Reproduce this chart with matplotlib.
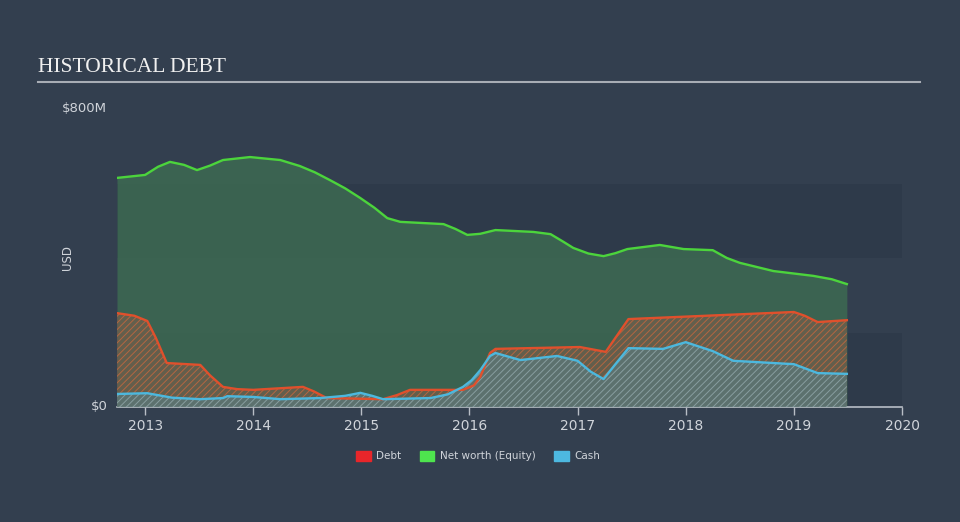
import matplotlib.pyplot as plt
import matplotlib as mpl

# values in $M, dates as decimal years
equity_t = [2012.74, 2013.0, 2013.12, 2013.23, 2013.36, 2013.48, 2013.6, 2013.72, 2013.97,
            2014.25, 2014.43, 2014.57, 2014.71, 2014.85, 2014.99, 2015.12, 2015.24, 2015.36,
            2015.76, 2015.87, 2015.98, 2016.1, 2016.24, 2016.59, 2016.75, 2016.86, 2016.96,
            2017.1, 2017.24, 2017.35, 2017.46, 2017.76, 2017.98, 2018.25, 2018.38, 2018.5,
            2018.81, 2019.18, 2019.35, 2019.49]
equity_v = [615, 623, 645, 658, 650, 636, 648, 663, 671,
            663, 647, 630, 609, 587, 561, 535, 507, 497,
            491, 478, 462, 465, 475, 470, 464, 445, 427,
            412, 405, 413, 424, 435, 424, 421, 400, 387,
            365, 352, 343, 330]

debt_t = [2012.74, 2012.9, 2013.02, 2013.1, 2013.2, 2013.51, 2013.6, 2013.72, 2013.85,
          2014.0, 2014.46, 2014.56, 2014.68, 2015.2, 2015.33, 2015.45, 2015.94, 2016.04,
          2016.1, 2016.19, 2016.24, 2017.02, 2017.26, 2017.36, 2017.47, 2017.95,
          2019.0, 2019.1, 2019.22, 2019.49]
debt_v = [252, 245, 231, 185, 118, 113, 85, 54, 48,
          46, 54, 42, 24, 21, 32, 46, 46, 58,
          81, 145, 156, 161, 148, 190, 236, 242,
          255, 245, 228, 233]

cash_t = [2012.74, 2013.02, 2013.25, 2013.51, 2013.72, 2013.76, 2014.0, 2014.25,
          2014.62, 2014.85, 2014.99, 2015.1, 2015.2, 2015.64, 2015.8, 2015.94, 2016.02,
          2016.1, 2016.19, 2016.24, 2016.47, 2016.81, 2017.0, 2017.12, 2017.24,
          2017.35, 2017.47, 2017.79, 2018.0, 2018.25, 2018.44, 2019.0, 2019.22, 2019.49]
cash_v = [35, 37, 25, 21, 24, 29, 27, 21,
          24, 30, 38, 30, 21, 24, 34, 54, 72,
          99, 137, 145, 126, 137, 124, 95, 75,
          115, 158, 156, 174, 150, 124, 115, 91, 89]

years = [2013, 2014, 2015, 2016, 2017, 2018, 2019, 2020]

BG = "#333f4f"
BAND = "#2e3a4a"
TXT = "#d0d4da"

mpl.rcParams["hatch.linewidth"] = 0.7

fig = plt.figure(figsize=(9.6, 5.22), dpi=100, facecolor=BG)
ax = fig.add_axes([117 / 960, 115 / 522, 785 / 960, 298 / 522])
ax.set_facecolor(BG)

# horizontal bands
ax.axhspan(0, 200, color=BAND, lw=0, zorder=0)
ax.axhspan(400, 600, color=BAND, lw=0, zorder=0)

# equity
ax.fill_between(equity_t, 0, equity_v, color="#3d6a52", alpha=0.85, lw=0, zorder=1)
ax.plot(equity_t, equity_v, color="#4cd43c", lw=1.7, zorder=5)

# debt
ax.fill_between(debt_t, 0, debt_v, facecolor="#6e5e4c", edgecolor="#c8683e",
                hatch="/////", lw=0, alpha=0.8, zorder=2)
ax.plot(debt_t, debt_v, color="#e0502c", lw=1.7, zorder=6)

# cash
ax.fill_between(cash_t, 0, cash_v, facecolor="#5c7472", edgecolor="#8aa2a6",
                hatch="/////", lw=0, alpha=0.9, zorder=3)
ax.plot(cash_t, cash_v, color="#4cb8de", lw=1.7, zorder=7)

ax.set_xlim(2012.74, 2020.0)
ax.set_ylim(0, 800)
ax.set_xticks(years)
ax.set_xticklabels([str(y) for y in years])
ax.set_yticks([])
for s in ["top", "right", "left"]:
    ax.spines[s].set_visible(False)
ax.spines["bottom"].set_color("#b8bec6")
ax.spines["bottom"].set_linewidth(1.2)
ax.tick_params(axis="x", colors="#b8bec6", length=6, width=1, labelcolor=TXT,
               labelsize=10, pad=3)

ax.text(-0.012, 0, "$0", transform=ax.get_yaxis_transform(), ha="right", va="center",
        color=TXT, fontsize=9.5)
fig.text(62 / 960, 1 - 109 / 522, "$800M", ha="left", va="center", color=TXT, fontsize=9.5)
fig.text(67 / 960, 1 - 258 / 522, "USD", rotation=90, ha="center", va="center",
         color=TXT, fontsize=8.5)

# title and rule
fig.text(38 / 960, 1 - 67 / 522, "HISTORICAL DEBT", family="Liberation Serif",
         fontsize=15.5, color="#f0f0f0", ha="left", va="center")
fig.add_artist(plt.Line2D([38 / 960, 920 / 960], [1 - 82 / 522, 1 - 82 / 522],
                          color="#a8adb5", lw=1.5))

# legend
handles = [mpl.patches.Patch(color="#e8262a", label="Debt"),
           mpl.patches.Patch(color="#4ee44e", label="Net worth (Equity)"),
           mpl.patches.Patch(color="#4db8e0", label="Cash")]
leg = fig.legend(handles=handles, loc="center", bbox_to_anchor=(478 / 960, 1 - 456 / 522),
                 ncol=3, frameon=False, fontsize=7.5, handlelength=1.4, handleheight=1.1,
                 columnspacing=1.8, handletextpad=0.5)
for t in leg.get_texts():
    t.set_color(TXT)

fig.savefig("out.png", dpi=100, facecolor=BG)
